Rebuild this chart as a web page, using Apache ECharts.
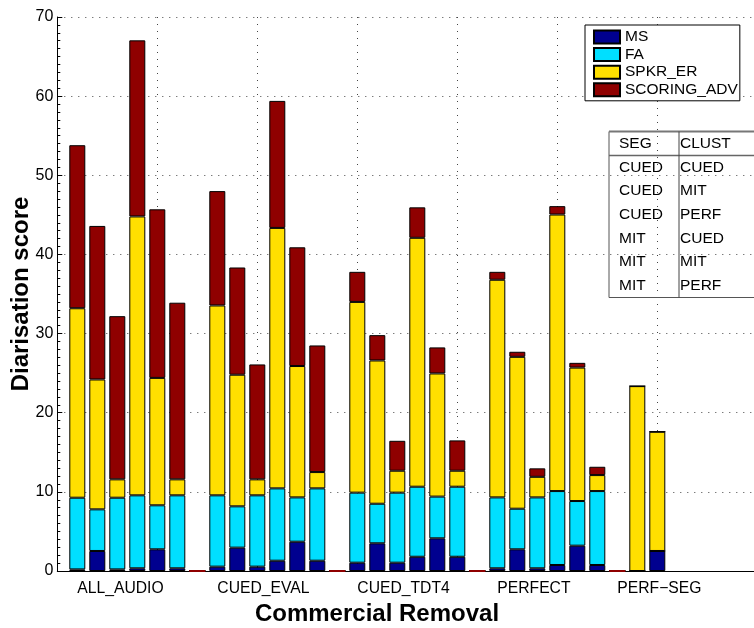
<!DOCTYPE html>
<html>
<head>
<meta charset="utf-8">
<script src="https://cdn.jsdelivr.net/npm/echarts@6/dist/echarts.min.js"></script>
<style>html,body{margin:0;padding:0;background:#fff;}#c{width:754px;height:628px;}</style>
</head>
<body>
<div id="c"></div>
<script>
// ---- data ----
const groupLabels = ['ALL_AUDIO', 'CUED_EVAL', 'CUED_TDT4', 'PERFECT', 'PERF\u2212SEG'];
const groupLabelSlots = [1, 8, 15, 22, 28];
const gapSlots = [7, 14, 21, 28];
const seriesNames = ['MS', 'FA', 'SPKR_ER', 'SCORING_ADV'];
// one value per bar slot 1..30 (slots 7,14,21,28 are gaps)
const msValues = [0.2, 2.53, 0.2, 0.34, 2.74, 0.34, 0, 0.55, 2.95, 0.55, 1.3, 3.7, 1.3, 0, 1.05, 3.5, 1.05, 1.8, 4.13, 1.8, 0, 0.34, 2.74, 0.34, 0.76, 3.2, 0.76, 0, 0, 2.53];
const faValues = [9.06, 5.26, 9.06, 9.22, 5.56, 9.22, 0, 9.01, 5.22, 9.01, 9.14, 5.6, 9.14, 0, 8.85, 5.0, 8.85, 8.85, 5.27, 8.85, 0, 8.96, 5.13, 8.96, 9.34, 5.64, 9.34, 0, 0, 0];
const spkrValues = [23.94, 16.41, 2.32, 35.24, 16.1, 2.02, 0, 23.99, 16.63, 2.02, 32.91, 16.6, 2.06, 0, 24.1, 18.1, 2.77, 31.45, 15.56, 2.02, 0, 27.5, 19.19, 2.6, 34.94, 16.86, 2.02, 0, 23.36, 15.07];
const scoringValues = [20.6, 19.4, 20.62, 22.25, 21.3, 22.32, 0, 14.45, 13.55, 14.52, 16.05, 15.0, 16.0, 0, 3.8, 3.2, 3.78, 3.85, 3.29, 3.83, 0, 1.0, 0.64, 1.07, 1.06, 0.6, 1.05, 0, 0, 0];
const yTicks = [0, 10, 20, 30, 40, 50, 60, 70];
const tableHeader = ['SEG', 'CLUST'];
const segColumn = ['CUED', 'CUED', 'CUED', 'MIT', 'MIT', 'MIT'];
const clustColumn = ['CUED', 'MIT', 'PERF', 'CUED', 'MIT', 'PERF'];

// ---- styling ----
const FONT = '"Liberation Sans", Arial, Helvetica, sans-serif';
const colors = ['#00008F', '#00DFFF', '#FFDF00', '#8F0000'];
const allValues = [msValues, faValues, spkrValues, scoringValues];
const NSLOT = 35; // axis spans slot 0..35
const slotCats = [];
for (let i = 0; i <= NSLOT; i++) slotCats.push(String(i));

const chart = echarts.init(document.getElementById('c'), null, {renderer: 'canvas'});

const series = seriesNames.map((name, si) => ({
  name: name,
  type: 'bar',
  stack: 'total',
  barWidth: 16,
  itemStyle: {color: colors[si], borderColor: '#000', borderWidth: 1},
  emphasis: {disabled: true},
  animation: false,
  data: slotCats.map((c, idx) => {
    const v = allValues[si][idx - 1];
    if (idx < 1 || v === undefined) return '-';
    const item = {value: v};
    if (gapSlots.indexOf(idx) >= 0 && si === 3) {
      item.itemStyle = {borderColor: colors[3], borderWidth: 2};
    }
    return item;
  })
}));

// table graphics
const tX = 609, tTop = 131.5, tHeadBottom = 155.5, tBottom = 297.5, tDiv = 679;
const rowY0 = 144, rowStep = 23.6;
const graphics = [
  {type: 'rect', shape: {x: tX, y: tTop, width: 200, height: tBottom - tTop}, style: {fill: 'none', stroke: '#555', lineWidth: 1}, z: 10},
  {type: 'line', shape: {x1: tX, y1: tTop, x2: 760, y2: tTop}, style: {stroke: '#777', lineWidth: 2}, z: 10},
  {type: 'line', shape: {x1: tX, y1: tHeadBottom, x2: 760, y2: tHeadBottom}, style: {stroke: '#666', lineWidth: 1.5}, z: 10},
  {type: 'line', shape: {x1: tDiv, y1: tTop, x2: tDiv, y2: tBottom}, style: {stroke: '#444', lineWidth: 1}, z: 10}
];
const tableRows = [tableHeader].concat(segColumn.map((s, i) => [s, clustColumn[i]]));
tableRows.forEach((row, r) => {
  graphics.push({type: 'text', x: 619, y: rowY0 + r * rowStep, style: {text: row[0], font: '15.5px ' + FONT, fill: '#000', verticalAlign: 'middle'}, z: 11});
  graphics.push({type: 'text', x: 680, y: rowY0 + r * rowStep, style: {text: row[1], font: '15.5px ' + FONT, fill: '#000', verticalAlign: 'middle'}, z: 11});
});

const every5 = (index) => index % 5 === 0;

const option = {
  animation: false,
  textStyle: {fontFamily: FONT},
  title: {
    text: 'Commercial Removal',
    left: 377, top: 602, textAlign: 'center', padding: 0,
    textStyle: {fontFamily: FONT, fontSize: 24, fontWeight: 'bold', color: '#000'}
  },
  legend: {
    orient: 'vertical',
    left: 585, top: 25,
    padding: [4, 2, 3, 8],
    itemGap: 1.6,
    itemWidth: 26, itemHeight: 13,
    icon: 'rect',
    backgroundColor: '#fff',
    borderColor: '#000', borderWidth: 1,
    textStyle: {fontFamily: FONT, fontSize: 15.5, color: '#000'},
    data: seriesNames
  },
  grid: {left: 57.3, top: 17, width: 700, height: 554, containLabel: false, outerBoundsMode: 'none'},
  xAxis: {
    type: 'category', data: slotCats, boundaryGap: false,
    axisLine: {show: true, onZero: false, lineStyle: {color: '#000', width: 1}},
    axisTick: {show: true, inside: true, length: 5, interval: every5, lineStyle: {color: '#000'}},
    axisLabel: {
      show: true, interval: (index) => groupLabelSlots.indexOf(index) >= 0,
      align: 'left', margin: 10,
      fontFamily: FONT, fontSize: 15.7, color: '#000',
      formatter: (v, index) => {
        const k = groupLabelSlots.indexOf(Number(v));
        return k >= 0 ? groupLabels[k] : '';
      }
    },
    splitLine: {show: true, interval: every5, lineStyle: {color: '#444', width: 1, type: [1, 6]}}
  },
  yAxis: {
    type: 'value', min: 0, max: 70, interval: 10,
    name: 'Diarisation score', nameLocation: 'middle', nameGap: 24, nameMoveOverlap: false,
    nameTextStyle: {fontFamily: FONT, fontSize: 24, fontWeight: 'bold', color: '#000'},
    axisLine: {show: true, lineStyle: {color: '#000', width: 1}},
    axisTick: {show: true, inside: true, length: 5, lineStyle: {color: '#000'}},
    minorTick: {show: true, splitNumber: 10, length: 3, lineStyle: {color: '#000'}},
    axisLabel: {margin: 4, fontFamily: FONT, fontSize: 16, color: '#000'},
    splitLine: {show: true, lineStyle: {color: '#444', width: 1, type: [1, 6]}}
  },
  graphic: graphics,
  series: series
};
chart.setOption(option);
</script>
</body>
</html>
